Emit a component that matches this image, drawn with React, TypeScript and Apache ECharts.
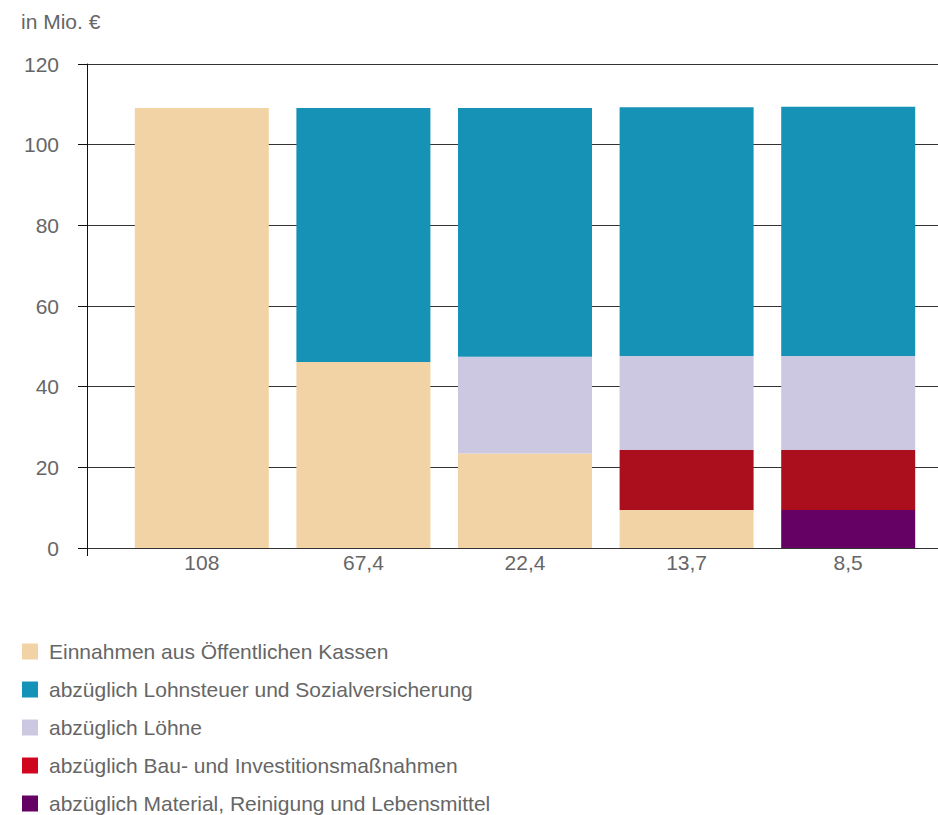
import React, { useEffect, useRef } from "react";
import * as echarts from "echarts";

const categories = ["108", "67,4", "22,4", "13,7", "8,5"];
const einnahmen = [109.1, 46.1, 23.4, 9.4, 0];
const lohnsteuer = [0, 63.0, 61.7, 61.7, 61.8];
const loehne = [0, 0, 24.0, 23.3, 23.3];
const bau = [0, 0, 0, 14.9, 14.9];
const material = [0, 0, 0, 0, 9.4];
const yTicks = [0, 20, 40, 60, 80, 100, 120];

const names = {
  einnahmen: "Einnahmen aus Öffentlichen Kassen",
  lohnsteuer: "abzüglich Lohnsteuer und Sozialversicherung",
  loehne: "abzüglich Löhne",
  bau: "abzüglich Bau- und Investitionsmaßnahmen",
  material: "abzüglich Material, Reinigung und Lebensmittel",
};

const colors = {
  einnahmen: "#f2d3a5",
  lohnsteuer: "#1792b7",
  loehne: "#ccc8e1",
  bau: "#ab0e1d",
  material: "#650064",
};

const FONT = "Liberation Sans, Arial, sans-serif";

export default function App() {
  const ref = useRef<HTMLDivElement>(null);
  useEffect(() => {
    if (!ref.current) return;
    const chart = echarts.init(ref.current, null, { renderer: "svg" });
    const mk = (key: keyof typeof names, vals: number[]) => ({
      type: "bar",
      name: names[key],
      stack: "total",
      barWidth: 134,
      xAxisIndex: 1,
      yAxisIndex: 1,
      itemStyle: { color: colors[key] },
      data: vals.map((v) => (v === 0 ? null : v)),
    });
    const yMin = yTicks[0];
    const yMax = yTicks[yTicks.length - 1];
    chart.setOption({
      animation: false,
      textStyle: { fontFamily: FONT },
      title: {
        text: "in Mio. €",
        left: 21,
        top: 11,
        padding: 0,
        textStyle: { fontSize: 21, fontWeight: "normal", color: "#666", fontFamily: FONT },
      },
      grid: [
        { left: 87, right: 0, top: 64, bottom: 267 },
        { left: 121, right: 9, top: 64, bottom: 267 },
      ],
      legend: {
        orient: "vertical",
        left: 22,
        top: 641,
        padding: 0,
        itemWidth: 16,
        itemHeight: 16,
        itemGap: 17,
        icon: "rect",
        textStyle: { fontSize: 21, color: "#666", fontFamily: FONT, padding: [0, 0, 0, 6] },
        data: [
          { name: names.einnahmen, itemStyle: { color: "#f2d3a5" } },
          { name: names.lohnsteuer, itemStyle: { color: "#1592b8" } },
          { name: names.loehne, itemStyle: { color: "#ccc8e1" } },
          { name: names.bau, itemStyle: { color: "#d0061e" } },
          { name: names.material, itemStyle: { color: "#650064" } },
        ],
      },
      xAxis: [
        {
          gridIndex: 0,
          type: "value",
          min: 0,
          max: 1,
          splitLine: { show: false },
          axisLine: { show: true, onZero: false, lineStyle: { color: "#333", width: 1 } },
          axisTick: { show: true, customValues: [0], length: 8, lineStyle: { color: "#111" } },
          axisLabel: { show: false },
        },
        {
          gridIndex: 1,
          type: "category",
          data: categories,
          axisLine: { show: false },
          axisTick: { show: false },
          splitLine: { show: false },
          axisLabel: { fontSize: 21, color: "#666", margin: 4, fontFamily: FONT },
        },
      ],
      yAxis: [
        {
          gridIndex: 0,
          type: "value",
          min: yMin,
          max: yMax,
          interval: 20,
          axisLine: { show: true, onZero: false, lineStyle: { color: "#111", width: 1 } },
          axisTick: { show: true, length: 9, lineStyle: { color: "#111" } },
          splitLine: { show: true, lineStyle: { color: "#333", width: 1 } },
          axisLabel: { fontSize: 21, color: "#666", margin: 28, fontFamily: FONT },
        },
        {
          gridIndex: 1,
          type: "value",
          min: yMin,
          max: yMax,
          interval: 20,
          show: false,
          splitLine: { show: false },
        },
      ],
      series: [
        mk("einnahmen", einnahmen),
        mk("material", material),
        mk("bau", bau),
        mk("loehne", loehne),
        mk("lohnsteuer", lohnsteuer),
      ],
    });
    return () => chart.dispose();
  }, []);
  return (
    <div
      ref={ref}
      style={{ position: "fixed", left: 0, top: 0, width: 938, height: 815, background: "#fff" }}
    />
  );
}
